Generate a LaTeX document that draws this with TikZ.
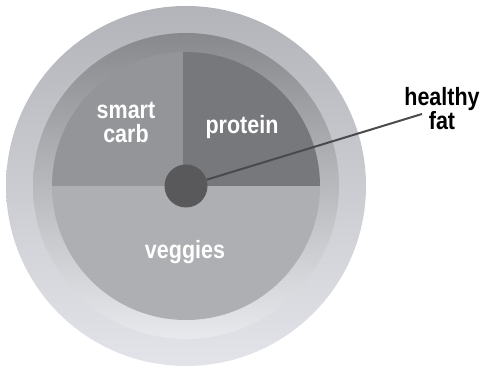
\documentclass[tikz,border=0pt]{standalone}
\usepackage{fontspec}
\newfontfamily\platefont{Liberation Sans}[FakeStretch=0.86]
\definecolor{carbC}{HTML}{949598}
\definecolor{protC}{HTML}{77787C}
\definecolor{vegC}{HTML}{AEAFB2}
\definecolor{fatC}{HTML}{59595C}
\definecolor{lineC}{HTML}{4A4A4C}
\definecolor{rimTop}{HTML}{B2B4BA}
\definecolor{rimMid}{HTML}{C9CBD1}
\definecolor{rimBot}{HTML}{E3E4E9}
\definecolor{wellTop}{HTML}{88898C}
\definecolor{wellMid}{HTML}{C2C4C8}
\definecolor{wellBot}{HTML}{E8E9ED}
\begin{document}
\begin{tikzpicture}[x=1pt,y=1pt,
  foodlabel/.style={text=white,font=\platefont\bfseries\fontsize{25}{24}\selectfont,align=center,inner sep=0pt},
  fatlabel/.style={text=black,font=\platefont\bfseries\fontsize{25}{24}\selectfont,align=center,inner sep=0pt}]
\useasboundingbox (0,0) rectangle (485,366);
\coordinate (c) at (186,180);
% plate rim
\shade[top color=rimTop, middle color=rimMid, bottom color=rimBot] (c) circle[radius=180];
% well
\shade[top color=wellTop, middle color=wellMid, bottom color=wellBot] (c) circle[radius=153];
% food
\begin{scope}
\clip (c) circle[radius=134];
\fill[carbC] (50,180) rectangle (183,320);
\fill[protC] (183,180) rectangle (322,320);
\fill[vegC] (50,40) rectangle (322,180);
\end{scope}
\node[foodlabel] (carb) at (126,244) {smart\\carb};
\node[foodlabel] (prot) at (242,239) {protein};
\node[foodlabel] (veg) at (185,114) {veggies};
\coordinate (lineend) at (422,252);
\node[circle,fill=fatC,minimum size=43pt,inner sep=0pt] (fat) at (c) {};
\draw[lineC,line width=2pt] (fat) -- (lineend);
\node[fatlabel] (fatlab) at (442,257) {healthy\\fat};
\end{tikzpicture}
\end{document}
